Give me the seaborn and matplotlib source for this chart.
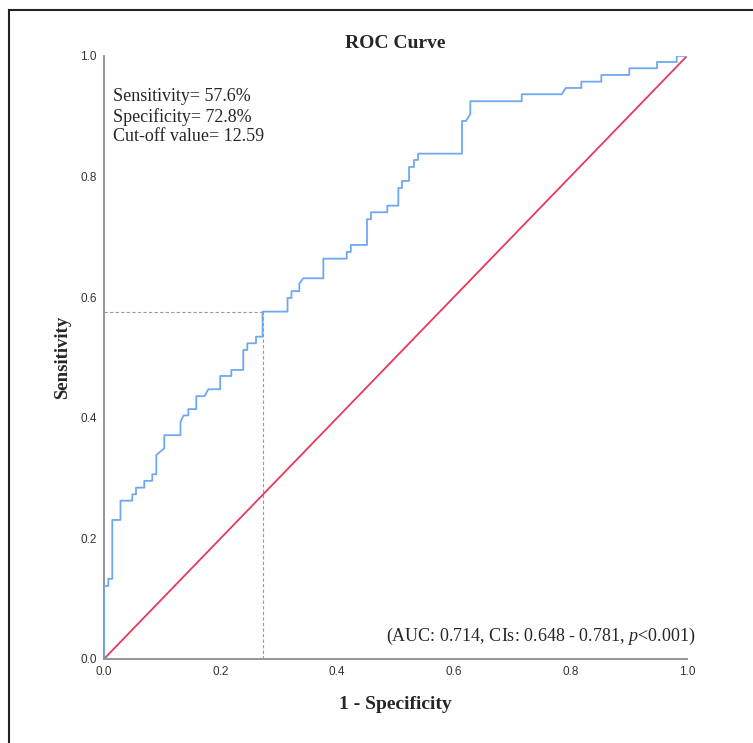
import numpy as np
import pandas as pd
import matplotlib
matplotlib.use("Agg")
import matplotlib.pyplot as plt
import seaborn as sns
from matplotlib.patches import Rectangle

# ROC curve vertices (1 - specificity, sensitivity)
fpr = [0.0, 0.0, 0.0074, 0.0074, 0.0142, 0.0142, 0.0283, 0.0283, 0.0485, 0.0485,
       0.0549, 0.0549, 0.0691, 0.0691, 0.0828, 0.0828, 0.0897, 0.0897, 0.1034, 0.1034,
       0.1312, 0.1312, 0.1364, 0.1446, 0.1446, 0.1583, 0.1583, 0.1724, 0.1789, 0.1993,
       0.1993, 0.2184, 0.2184, 0.2389, 0.2389, 0.2458, 0.2458, 0.2607, 0.2607, 0.272,
       0.272, 0.3148, 0.3148, 0.3216, 0.3216, 0.3350, 0.3350, 0.3419, 0.3762, 0.3762,
       0.4163, 0.4163, 0.4233, 0.4233, 0.4511, 0.4511, 0.4580, 0.4580, 0.4859, 0.4859,
       0.5048, 0.5048, 0.5111, 0.5111, 0.5232, 0.5232, 0.5317, 0.5317, 0.5386, 0.5386,
       0.6141, 0.6141, 0.6209, 0.6283, 0.6283, 0.7165, 0.7165, 0.7851, 0.7919, 0.8187,
       0.8187, 0.8530, 0.8530, 0.9010, 0.9010, 0.9485, 0.9485, 0.9823, 0.9823, 1.0]
tpr = [0.0, 0.121, 0.121, 0.133, 0.133, 0.2305, 0.2305, 0.2625, 0.2625, 0.2731,
       0.2731, 0.2841, 0.2841, 0.2954, 0.2954, 0.3063, 0.3063, 0.3383, 0.3494, 0.3711,
       0.3711, 0.3930, 0.4038, 0.4038, 0.4143, 0.4143, 0.4358, 0.4358, 0.4473, 0.4473,
       0.4693, 0.4693, 0.4793, 0.4793, 0.5124, 0.5124, 0.5235, 0.5235, 0.5345, 0.5345,
       0.576, 0.576, 0.5987, 0.5987, 0.6100, 0.6100, 0.6224, 0.6313, 0.6313, 0.6638,
       0.6638, 0.6750, 0.6750, 0.6866, 0.6866, 0.7292, 0.7292, 0.7408, 0.7408, 0.7517,
       0.7517, 0.7811, 0.7811, 0.7927, 0.7927, 0.8159, 0.8159, 0.8275, 0.8275, 0.8380,
       0.8380, 0.8922, 0.8922, 0.9038, 0.9249, 0.9249, 0.9365, 0.9365, 0.9469, 0.9469,
       0.9574, 0.9574, 0.9685, 0.9685, 0.9796, 0.9796, 0.9900, 0.9900, 1.0, 1.0]

cut_fpr = 0.272
cut_tpr = 0.576
ticks = [0.0, 0.2, 0.4, 0.6, 0.8, 1.0]
info_text = "Sensitivity= 57.6%\nSpecificity= 72.8%\nCut-off value= 12.59"
auc_text = r"(AUC: 0.714, CIs: 0.648 - 0.781, $\mathit{p}$<0.001)"

sns.set_theme(style="white")
plt.rcParams["font.family"] = ["Liberation Serif", "DejaVu Serif"]
plt.rcParams["mathtext.fontset"] = "custom"
plt.rcParams["mathtext.rm"] = "Liberation Serif"
plt.rcParams["mathtext.it"] = "Liberation Serif:italic"

fig = plt.figure(figsize=(7.53, 7.43), dpi=100)
ax = fig.add_axes([0.1381, 0.1131, 0.7743, 0.8116])

df = pd.DataFrame({"fpr": fpr, "tpr": tpr})
sns.lineplot(data=df, x="fpr", y="tpr", sort=False, estimator=None,
             color="#6fa8f2", linewidth=1.3, ax=ax, zorder=3)
sns.lineplot(x=[0, 1], y=[0, 1], color="#e8385c", linewidth=1.3, ax=ax, zorder=2)

# cut-off guides
ax.plot([0, cut_fpr], [cut_tpr, cut_tpr], ls=(0, (3, 2)), color="#9a9a9a", lw=0.8, zorder=1)
ax.plot([cut_fpr, cut_fpr], [0, cut_tpr], ls=(0, (3, 2)), color="#9a9a9a", lw=0.8, zorder=1)

ax.set_xlim(0, 1)
ax.set_ylim(0, 1)
ax.set_xticks(ticks)
ax.set_yticks(ticks)
ax.set_xticklabels([f"{t:.1f}" for t in ticks], family="Liberation Sans", fontsize=8.5, color="#333333")
ax.set_yticklabels([f"{t:.1f}" for t in ticks], family="Liberation Sans", fontsize=8.5, color="#333333")
ax.tick_params(length=0, pad=5)

for s in ["top", "right"]:
    ax.spines[s].set_visible(False)
for s in ["left", "bottom"]:
    ax.spines[s].set_color("#8c8c8c")
    ax.spines[s].set_linewidth(1.3)

ax.set_title("ROC Curve", fontsize=14, fontweight="bold", pad=6)
ax.set_xlabel("1 - Specificity", fontsize=14, fontweight="bold", labelpad=13)
ax.set_ylabel("Sensitivity", fontsize=13.5, fontweight="bold", labelpad=7)

ax.text(0.015, 0.947, info_text, transform=ax.transAxes, fontsize=13,
        va="top", ha="left", linespacing=1.2)
ax.text(1.015, 0.02, auc_text, transform=ax.transAxes, fontsize=13,
        va="bottom", ha="right")

fig.patches.append(Rectangle((9 / 753, -0.02), 1.1, 1 - 10 / 743 + 0.02,
                             transform=fig.transFigure, fill=False,
                             edgecolor="#222222", linewidth=1.5))

fig.savefig("out.png", dpi=100)
